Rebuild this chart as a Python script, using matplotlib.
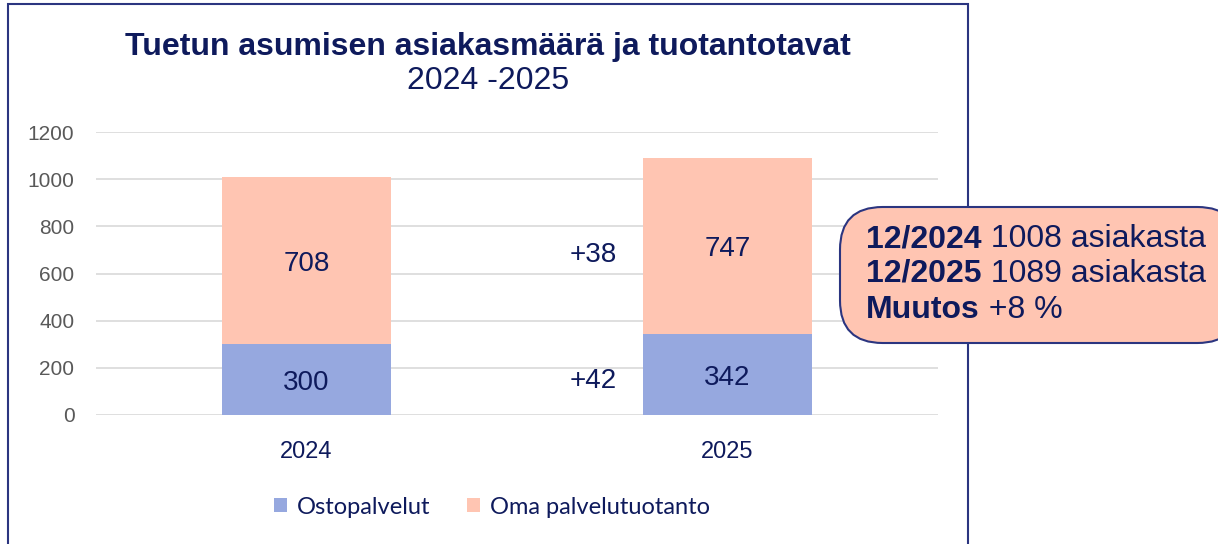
import matplotlib.pyplot as plt
from matplotlib.patches import FancyBboxPatch, Rectangle

years = ["2024", "2025"]
ostopalvelut = [300, 342]
oma = [708, 747]
muutos_osto = "+42"
muutos_oma = "+38"
info_bold = ["12/2024", "12/2025", "Muutos"]
info_rest = [" 1008 asiakasta", " 1089 asiakasta", " +8 %"]

navy = "#0E1A5C"
blue = "#96A8DF"
peach = "#FFC5B2"

plt.rcParams["font.family"] = ["Liberation Sans", "DejaVu Sans"]

fig = plt.figure(figsize=(12.18, 5.44), dpi=100)
ax = fig.add_axes([96 / 1218, 1 - 415 / 544, 842 / 1218, 283 / 544])

x = range(len(years))
ax.bar(x, ostopalvelut, width=0.4, color=blue, zorder=3)
ax.bar(x, oma, width=0.4, bottom=ostopalvelut, color=peach, zorder=3)

for i in x:
    ax.text(i, ostopalvelut[i] / 2, str(ostopalvelut[i]), ha="center", va="center_baseline",
            fontsize=20, color=navy, zorder=4)
    ax.text(i, ostopalvelut[i] + oma[i] / 2, str(oma[i]), ha="center", va="center_baseline",
            fontsize=20, color=navy, zorder=4)

ax.text(0.68, 146, muutos_osto, ha="center", va="center", fontsize=20, color=navy)
ax.text(0.68, 680, muutos_oma, ha="center", va="center", fontsize=20, color=navy)

ax.set_xlim(-0.5, 1.5)
ax.set_ylim(0, 1200)
ax.set_yticks(range(0, 1201, 200))
ax.set_xticks(list(x))
ax.set_xticklabels(years)
ax.grid(axis="y", color="#D9D9D9", linewidth=1.2, zorder=0)
for s in ax.spines.values():
    s.set_visible(False)
ax.tick_params(axis="both", length=0)
ax.tick_params(axis="y", labelsize=15, labelcolor="#595959", pad=15.5)
ax.tick_params(axis="x", labelsize=17, labelcolor=navy, pad=19)

# legend
leg = fig.legend(["Ostopalvelut", "Oma palvelutuotanto"], loc="center",
                 bbox_to_anchor=(492 / 1218, 1 - 507 / 544), ncol=2, frameon=False,
                 handlelength=0.55, handleheight=0.55, handletextpad=0.42, columnspacing=1.55,
                 prop={"family": "Lato", "size": 17})
for t in leg.get_texts():
    t.set_color(navy)

# titles
fig.text(488 / 1218, 1 - 47 / 544, "Tuetun asumisen asiakasmäärä ja tuotantotavat",
         ha="center", va="center", fontsize=23, fontweight="bold", color=navy)
fig.text(488 / 1218, 1 - 81 / 544, "2024 -2025", ha="center", va="center",
         fontsize=23, color=navy)

# chart frame
fig.patches.append(Rectangle((8 / 1218, -0.05), 960 / 1218, 1.05 - 4 / 544,
                             transform=fig.transFigure, fill=False,
                             edgecolor="#2B3580", linewidth=1.5))

# info box
box = FancyBboxPatch((840 / 1218, 1 - 343 / 544), 400 / 1218, 136 / 544,
                     boxstyle="round,pad=0,rounding_size=0.035",
                     transform=fig.transFigure, facecolor=peach,
                     edgecolor="#2B3580", linewidth=1.5, mutation_aspect=1218 / 544)
fig.patches.append(box)

fig.canvas.draw()
renderer = fig.canvas.get_renderer()
for k, yy in enumerate([239, 274, 310]):
    tb = fig.text(866 / 1218, 1 - yy / 544, info_bold[k], ha="left", va="center",
                  fontsize=23, fontweight="bold", color=navy)
    bb = tb.get_window_extent(renderer)
    fig.text(bb.x1 / fig.bbox.width, 1 - yy / 544, info_rest[k], ha="left",
             va="center", fontsize=23, color=navy)

fig.savefig("out.png", dpi=100)
